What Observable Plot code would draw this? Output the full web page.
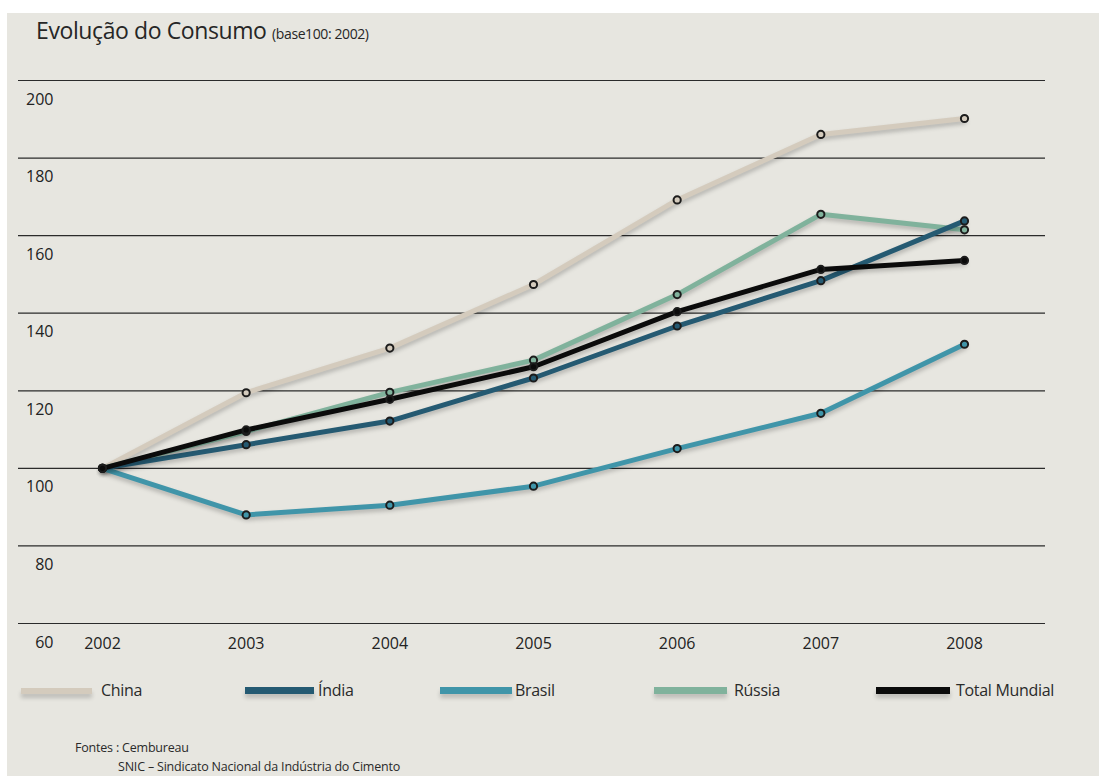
<!DOCTYPE html>
<html>
<head>
<meta charset="utf-8">
<script src="https://cdn.jsdelivr.net/npm/d3@7"></script>
<script src="https://cdn.jsdelivr.net/npm/@observablehq/plot@0.6"></script>
<style>
  html, body { margin: 0; padding: 0; background: #ffffff; }
  body { width: 1099px; height: 776px; position: relative; overflow: hidden; font-family: "Open Sans", sans-serif; color: #2a2a2a; }
  #bg { position: absolute; left: 7px; top: 13px; right: 0; bottom: 0; background: #e7e6e0; }
  #title { position: absolute; left: 36px; top: 14px; font-size: 23px; color: #262626; white-space: nowrap; letter-spacing: -0.4px; }
  #title small { font-size: 14px; letter-spacing: -0.4px; }
  #chart { position: absolute; left: 0; top: 60px; }
  .sw { position: absolute; height: 7px; box-shadow: 0 4px 4px rgba(0,0,0,0.18); }
  .lab { position: absolute; font-size: 16px; color: #2a2a2a; white-space: nowrap; line-height: 20px; letter-spacing: -0.3px; }
  #foot { position: absolute; left: 75px; top: 738px; font-size: 12.5px; color: #2a2a2a; line-height: 19px; letter-spacing: -0.2px; }
</style>
</head>
<body>
<div id="bg"></div>
<div id="title">Evolução do Consumo <small>(base100: 2002)</small></div>
<div id="chart"></div>
<div id="legend"></div>
<div id="foot">Fontes : Cembureau<br><span style="padding-left:43px">SNIC – Sindicato Nacional da Indústria do Cimento</span></div>
<script>
const years = [2002, 2003, 2004, 2005, 2006, 2007, 2008];
const seriesNames = ["China", "Índia", "Brasil", "Rússia", "Total Mundial"];
const seriesColors = ["#d4cbbd", "#255a72", "#4095a9", "#80b29c", "#0b0b0b"];
const china  = [100, 119.5, 131.0, 147.4, 169.2, 186.1, 190.2];
const india  = [100, 106.1, 112.2, 123.3, 136.7, 148.4, 163.8];
const brasil = [100, 88.0, 90.5, 95.4, 105.1, 114.2, 132.0];
const russia = [100, 109.5, 119.6, 127.9, 144.8, 165.5, 161.5];
const total  = [100, 109.9, 117.8, 126.2, 140.4, 151.3, 153.6];
const yTicks = [60, 80, 100, 120, 140, 160, 180, 200];

// drawing order (bottom to top)
const drawOrder = [["China", china], ["Rússia", russia], ["Brasil", brasil], ["Índia", india], ["Total Mundial", total]];
const data = drawOrder.flatMap(([name, vals]) => vals.map((v, i) => ({series: name, year: years[i], value: v})));

const chart = Plot.plot({
  width: 1099,
  height: 610,
  marginLeft: 18,
  marginRight: 54,
  marginTop: 20,
  marginBottom: 47,
  x: {domain: [2002, 2008], insetLeft: 84, insetRight: 81, axis: null},
  y: {domain: [60, 200], axis: null},
  color: {domain: seriesNames, range: seriesColors},
  style: {background: "transparent", fontFamily: "Open Sans, sans-serif", fontSize: "16px", color: "#222"},
  marks: [
    Plot.ruleY(yTicks, {stroke: "#2b2b2b", strokeWidth: 1.2}),
    Plot.text(yTicks, {y: d => d, frameAnchor: "left", textAnchor: "end", dx: 35, dy: 19, text: d => String(d), fill: "#222", fontSize: 16}),
    Plot.text(years, {x: d => d, frameAnchor: "bottom", dy: 25, text: d => String(d), fill: "#222", fontSize: 16}),
    Plot.line(data, {x: "year", y: "value", z: "series", stroke: "series", strokeWidth: 5, strokeLinejoin: "round"}),
    Plot.dot(data, {x: "year", y: "value", fill: "series", stroke: "#1c1c1c", strokeWidth: 2, r: 3.6})
  ]
});
chart.querySelectorAll('g[aria-label="line"] path').forEach(p => {
  p.style.filter = "drop-shadow(0px 3px 2px rgba(0,0,0,0.22))";
});
document.getElementById("chart").appendChild(chart);

// legend
const legendPos = [
  {sw: 21, w: 71, lab: 101},
  {sw: 245, w: 69, lab: 318},
  {sw: 440, w: 72, lab: 515},
  {sw: 654, w: 73, lab: 734},
  {sw: 876, w: 74, lab: 956}
];
const legend = document.getElementById("legend");
seriesNames.forEach((name, i) => {
  const p = legendPos[i];
  const sw = document.createElement("div");
  sw.className = "sw";
  sw.style.left = p.sw + "px";
  sw.style.width = p.w + "px";
  sw.style.top = (i === 0 ? 688 : 687) + "px";
  sw.style.height = (i === 0 ? 6 : 7) + "px";
  sw.style.background = seriesColors[i];
  legend.appendChild(sw);
  const lb = document.createElement("div");
  lb.className = "lab";
  lb.style.left = p.lab + "px";
  lb.style.top = "680px";
  lb.textContent = name;
  legend.appendChild(lb);
});
</script>
</body>
</html>
